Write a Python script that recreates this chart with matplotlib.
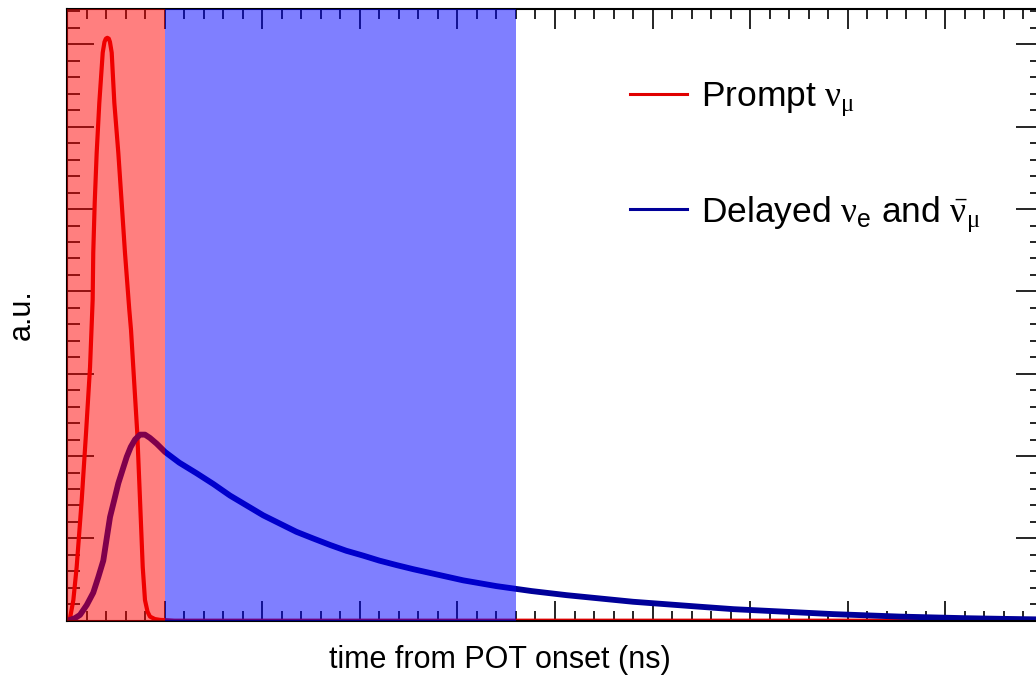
import matplotlib as mpl
import matplotlib.pyplot as plt
from matplotlib.ticker import MultipleLocator

mpl.rcParams.update({
    "font.family": ["Liberation Sans", "DejaVu Sans"],
    "mathtext.fontset": "custom",
    "mathtext.rm": "Liberation Serif",
    "mathtext.it": "Liberation Serif",
    "mathtext.sf": "Liberation Sans",
    "axes.linewidth": 1.5,
})

# --- dati (tempo in ns, ampiezza in unita' arbitrarie) ---
prompt_t = [0, 3.1, 6.5, 9.9, 15.1, 19.5, 23.6, 26.3, 26.9, 28.4, 30.4, 33.1, 36.6,
            38.4, 39.8, 41.3, 42.8, 44.0, 45.8, 48.5, 52.6, 56.0, 59.4, 63.8, 65.6,
            67.9, 72.0, 74.8, 77.6, 79.9, 82.5, 85.0, 90.0, 95.3, 110, 1000]
prompt_y = [0, 0.03, 0.25, 0.65, 1.47, 2.28, 3.08, 3.90, 4.47, 5.08, 5.68, 6.29, 6.90,
            7.03, 7.07, 7.08, 7.07, 7.03, 6.90, 6.29, 5.68, 5.08, 4.47, 3.78, 3.53,
            3.08, 2.28, 1.47, 0.65, 0.25, 0.11, 0.05, 0.02, 0.01, 0.0, 0.0]

delayed_t = [0, 3.1, 8.0, 13.3, 20.2, 26.9, 32.1, 37.2, 40.7, 44.1, 48.5, 52.6, 57.7,
             61.2, 65.3, 69.7, 74.8, 79.9, 85.0, 91.9, 100.4, 115, 132.9, 150, 167,
             184, 201, 218, 235, 252, 269.5, 286, 303.6, 320, 337.8, 355, 372, 389,
             406, 423, 440, 476, 512, 546, 580, 614, 648, 683, 717, 751, 785, 819,
             853, 887, 922, 961, 1000]
delayed_y = [0, 0.01, 0.03, 0.07, 0.19, 0.34, 0.53, 0.73, 1.00, 1.26, 1.47, 1.67, 1.86,
             1.99, 2.11, 2.20, 2.26, 2.26, 2.22, 2.15, 2.05, 1.92, 1.79, 1.66, 1.52,
             1.40, 1.28, 1.18, 1.08, 1.00, 0.92, 0.85, 0.79, 0.73, 0.675, 0.625, 0.58,
             0.535, 0.49, 0.455, 0.42, 0.36, 0.31, 0.27, 0.23, 0.20, 0.17, 0.14, 0.12,
             0.10, 0.08, 0.065, 0.05, 0.04, 0.03, 0.022, 0.015]

prompt_window = (0, 100)
delayed_window = (100, 460)

fig = plt.figure(figsize=(10.36, 6.75), dpi=100)
ax = fig.add_axes([67 / 1036, (675 - 620.7) / 675, 976 / 1036, 611.7 / 675])

ax.plot(prompt_t, prompt_y, color="#e00000", lw=3.0,
        label=r"Prompt $\nu_{\mu}$", zorder=2)
ax.plot(delayed_t, delayed_y, color="#000099", lw=4.2,
        label=r"Delayed $\nu_{\mathsf{e}}$ and $\bar{\nu}_{\mu}$", zorder=2)

# finestre temporali (sopra le curve, semitrasparenti)
ax.axvspan(*prompt_window, color="red", alpha=0.5, lw=0, zorder=3)
ax.axvspan(*delayed_window, color="blue", alpha=0.5, lw=0, zorder=3)

ax.set_xlim(0, 1000)
ax.set_ylim(0, 7.43)
ax.xaxis.set_major_locator(MultipleLocator(100))
ax.xaxis.set_minor_locator(MultipleLocator(20))
ax.yaxis.set_major_locator(MultipleLocator(1))
ax.yaxis.set_minor_locator(MultipleLocator(0.2))
ax.tick_params(which="both", direction="in", top=True, right=True,
               labelbottom=False, labelleft=False, width=1.2)
ax.tick_params(axis="x", which="major", length=14.4)
ax.tick_params(axis="x", which="minor", length=7.2)
ax.tick_params(axis="y", which="major", length=19.4)
ax.tick_params(axis="y", which="minor", length=9.4)

ax.set_xlabel("time from POT onset (ns)", fontsize=22, labelpad=17.5)
ax.xaxis.label.set_position((0.4436, 0))
ax.set_ylabel("a.u.", fontsize=22, labelpad=22)

leg = ax.legend(loc="upper left", bbox_to_anchor=((630 - 67) / 976, (620.7 - 80) / 611.7),
                frameon=False, fontsize=25.5, handlelength=1.6, handletextpad=0.4,
                labelspacing=2.15, borderpad=0, borderaxespad=0)
for line in leg.get_lines():
    line.set_linewidth(2.2)

fig.savefig("out.png", dpi=100)
